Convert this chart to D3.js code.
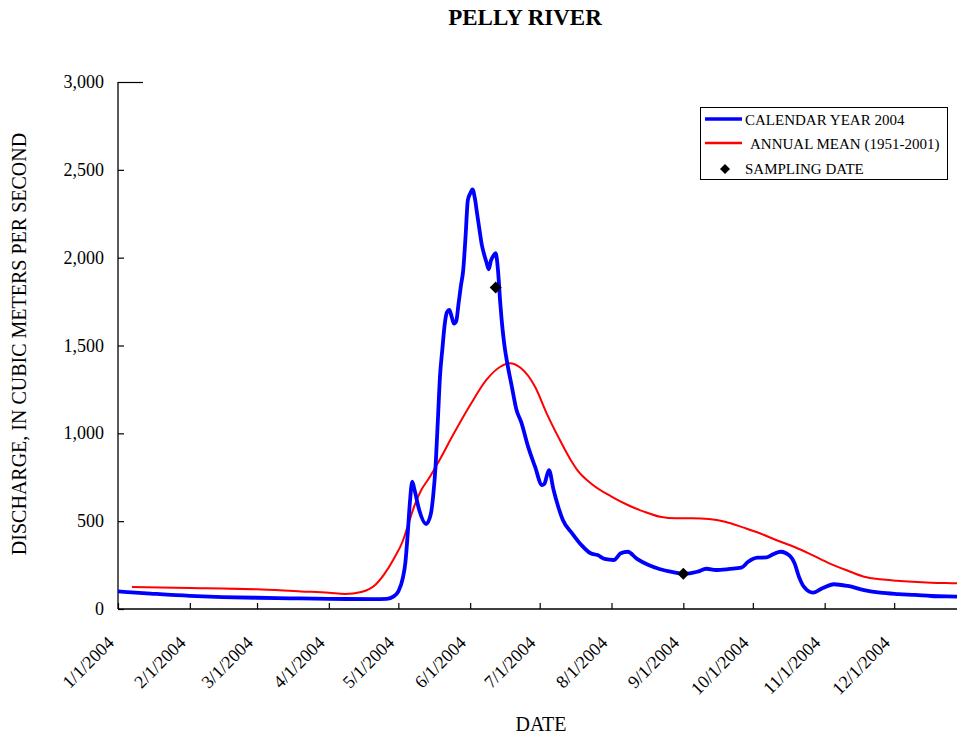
<!DOCTYPE html>
<html>
<head>
<meta charset="utf-8">
<script src="https://cdn.jsdelivr.net/npm/d3@7"></script>
<style>
  html, body { margin: 0; padding: 0; background: #fff; }
  svg { display: block; font-family: "Liberation Serif", "Times New Roman", serif; }
</style>
</head>
<body>
<svg id="chart" width="957" height="734"></svg>
<script>
// Daily discharge, calendar year 2004 (m³/s)
const yearDates = [
  "2004-01-01","2004-01-15","2004-02-01","2004-02-15","2004-03-01","2004-03-15",
  "2004-04-01","2004-04-20","2004-04-26","2004-04-29","2004-05-01","2004-05-03",
  "2004-05-04","2004-05-05","2004-05-06","2004-05-07","2004-05-08","2004-05-10",
  "2004-05-13","2004-05-15","2004-05-16","2004-05-17","2004-05-18","2004-05-19",
  "2004-05-20","2004-05-21","2004-05-22","2004-05-23","2004-05-24","2004-05-25",
  "2004-05-26","2004-05-27","2004-05-28","2004-05-29","2004-05-30","2004-05-31",
  "2004-06-01","2004-06-02","2004-06-03","2004-06-04","2004-06-05","2004-06-06",
  "2004-06-07","2004-06-08","2004-06-09","2004-06-10","2004-06-11","2004-06-12",
  "2004-06-13","2004-06-14","2004-06-15","2004-06-16","2004-06-17","2004-06-19",
  "2004-06-21","2004-06-23","2004-06-26","2004-06-29","2004-07-02","2004-07-03",
  "2004-07-05","2004-07-07","2004-07-09","2004-07-11","2004-07-15","2004-07-19",
  "2004-07-23","2004-07-26","2004-07-29","2004-08-02","2004-08-05","2004-08-08",
  "2004-08-12","2004-08-17","2004-08-22","2004-08-28","2004-09-01","2004-09-07",
  "2004-09-11","2004-09-15","2004-09-21","2004-09-26","2004-09-29","2004-10-03",
  "2004-10-07","2004-10-10","2004-10-13","2004-10-17","2004-10-19","2004-10-21",
  "2004-10-23","2004-10-27","2004-10-31","2004-11-05","2004-11-11","2004-11-18",
  "2004-11-25","2004-12-03","2004-12-10","2004-12-17","2004-12-29","2004-12-31"
];
const yearValues = [
  100, 88, 75, 68, 64, 61,
  58, 56, 58, 72, 100, 180,
  260, 420, 610, 725, 677, 564,
  484, 540, 640, 800, 1060, 1330,
  1480, 1620, 1690, 1702, 1665, 1625,
  1640, 1740, 1840, 1930, 2119, 2328,
  2365, 2389, 2340, 2250, 2160, 2075,
  2020, 1975, 1934, 1985, 2010, 2025,
  1930, 1740, 1590, 1480, 1400, 1265,
  1133, 1065, 924, 810, 706, 712,
  791, 677, 582, 507, 431, 364,
  317, 307, 285, 279, 317, 326,
  285, 250, 226, 209, 200, 212,
  229, 222, 228, 235, 269, 292,
  294, 313, 326, 302, 260, 180,
  127, 93, 118, 141, 131, 108,
  93, 85, 80, 74, 70, 69
];

// Long-term mean daily discharge, 1951-2001 (m³/s)
const meanDates = [
  "2004-01-07","2004-02-01","2004-03-01","2004-03-20","2004-04-01","2004-04-08",
  "2004-04-15","2004-04-21","2004-04-25","2004-04-29","2004-05-03","2004-05-05",
  "2004-05-08","2004-05-11","2004-05-14","2004-05-18","2004-05-25","2004-06-01",
  "2004-06-08","2004-06-14","2004-06-18","2004-06-23","2004-06-29","2004-07-04",
  "2004-07-10","2004-07-15","2004-07-17","2004-07-24","2004-08-01","2004-08-08",
  "2004-08-15","2004-08-22","2004-08-29","2004-09-05","2004-09-12","2004-09-19",
  "2004-09-27","2004-10-04","2004-10-11","2004-10-19","2004-10-26","2004-11-03",
  "2004-11-11","2004-11-18","2004-11-25","2004-12-02","2004-12-09","2004-12-17",
  "2004-12-29","2004-12-31"
];
const meanValues = [
  125, 120, 112, 100, 93, 85,
  97, 137, 200, 285, 390, 470,
  590, 680, 740, 830, 1000, 1161,
  1304, 1379, 1399, 1370, 1265, 1114,
  955, 835, 795, 706, 640, 592,
  554, 525, 516, 516, 512, 497,
  463, 431, 393, 353, 311, 260,
  218, 184, 169, 161, 155, 150,
  146, 145
];

// Water-quality sampling visits
const sampleDates = ["2004-06-12", "2004-09-01"];
const sampleValues = [1830, 200];

const yTicks = [0, 500, 1000, 1500, 2000, 2500, 3000];
const legendLabels = ["CALENDAR YEAR 2004", "ANNUAL MEAN (1951-2001)", "SAMPLING DATE"];

const parse = d3.utcParse("%Y-%m-%d");
const yearSeries = yearDates.map((d, i) => ({ date: parse(d), value: yearValues[i] }));
const meanSeries = meanDates.map((d, i) => ({ date: parse(d), value: meanValues[i] }));
const samples = sampleDates.map((d, i) => ({ date: parse(d), value: sampleValues[i] }));

const svg = d3.select("#chart");
const plotLeft = 118, plotRight = 966, plotTop = 82, plotBottom = 609;

const x = d3.scaleUtc()
  .domain([parse("2004-01-01"), parse("2005-01-01")])
  .range([plotLeft, plotRight]);
const y = d3.scaleLinear().domain([0, 3000]).range([plotBottom, plotTop]);

// Title
svg.append("text")
  .attr("x", 525).attr("y", 25)
  .attr("text-anchor", "middle")
  .attr("font-weight", "bold")
  .attr("font-size", 23)
  .text("PELLY RIVER");

// Y axis with inward ticks
const yAxis = svg.append("g")
  .attr("transform", `translate(${plotLeft},0)`)
  .call(d3.axisRight(y).tickValues(yTicks).tickSize(6).tickFormat(""));
yAxis.select(".domain").attr("d", `M0,${plotTop}V${plotBottom}`).attr("stroke-width", 1.3);
yAxis.selectAll(".tick line").attr("stroke-width", 1.2);
yAxis.selectAll(".tick")
  .filter(d => d === 3000)
  .select("line").attr("x2", 25);

svg.append("g").selectAll("text")
  .data(yTicks)
  .join("text")
  .attr("x", 104)
  .attr("y", d => y(d) + 6)
  .attr("text-anchor", "end")
  .attr("font-size", 18)
  .text(d3.format(","));

// X axis with inward ticks at month starts
const monthTicks = d3.utcMonth.range(parse("2004-01-01"), parse("2005-01-01"));
const xAxis = svg.append("g")
  .attr("transform", `translate(0,${plotBottom})`)
  .call(d3.axisTop(x).tickValues(monthTicks).tickSize(6).tickFormat(""));
xAxis.select(".domain").attr("d", `M${plotLeft},0H957`).attr("stroke-width", 1.3);
xAxis.selectAll(".tick line").attr("stroke-width", 1.2);

const fmt = d3.utcFormat("%-m/%-d/%Y");
svg.append("g").selectAll("text")
  .data(monthTicks)
  .join("text")
  .attr("transform", d => `translate(${x(d) - 3},${plotBottom + 35}) rotate(-45)`)
  .attr("text-anchor", "end")
  .attr("font-size", 18)
  .text(fmt);

// Axis titles
svg.append("text")
  .attr("transform", `translate(26,344) rotate(-90)`)
  .attr("text-anchor", "middle")
  .attr("font-size", 20)
  .text("DISCHARGE, IN CUBIC METERS PER SECOND");

svg.append("text")
  .attr("x", 541).attr("y", 731)
  .attr("text-anchor", "middle")
  .attr("font-size", 20)
  .text("DATE");

// Series
const line = d3.line()
  .x(d => x(d.date))
  .y(d => y(d.value))
  .curve(d3.curveMonotoneX);

svg.append("path")
  .datum(meanSeries)
  .attr("fill", "none")
  .attr("stroke", "#ff0000")
  .attr("stroke-width", 2)
  .attr("d", line);

svg.append("path")
  .datum(yearSeries)
  .attr("fill", "none")
  .attr("stroke", "#0000ff")
  .attr("stroke-width", 3.8)
  .attr("stroke-linejoin", "round")
  .attr("d", line);

const diamond = d3.symbol().type(d3.symbolSquare).size(72);
svg.append("g").selectAll("path")
  .data(samples)
  .join("path")
  .attr("transform", d => `translate(${x(d.date)},${y(d.value)}) rotate(45)`)
  .attr("d", diamond)
  .attr("fill", "#000");

// Legend
const legend = svg.append("g");
legend.append("rect")
  .attr("x", 700.5).attr("y", 107.5)
  .attr("width", 247).attr("height", 72)
  .attr("fill", "#fff").attr("stroke", "#000").attr("stroke-width", 1);

legend.append("line")
  .attr("x1", 705).attr("x2", 742).attr("y1", 119).attr("y2", 119)
  .attr("stroke", "#0000ff").attr("stroke-width", 3.5);
legend.append("line")
  .attr("x1", 705).attr("x2", 742).attr("y1", 143).attr("y2", 143)
  .attr("stroke", "#ff0000").attr("stroke-width", 2.5);
legend.append("path")
  .attr("transform", "translate(725,169) rotate(45)")
  .attr("d", d3.symbol().type(d3.symbolSquare).size(50))
  .attr("fill", "#000");

const legendX = [745, 750, 745];
const legendY = [125, 149, 174];
legend.selectAll("text")
  .data(legendLabels)
  .join("text")
  .attr("x", (d, i) => legendX[i])
  .attr("y", (d, i) => legendY[i])
  .attr("font-size", 15)
  .text(d => d);
</script>
</body>
</html>
